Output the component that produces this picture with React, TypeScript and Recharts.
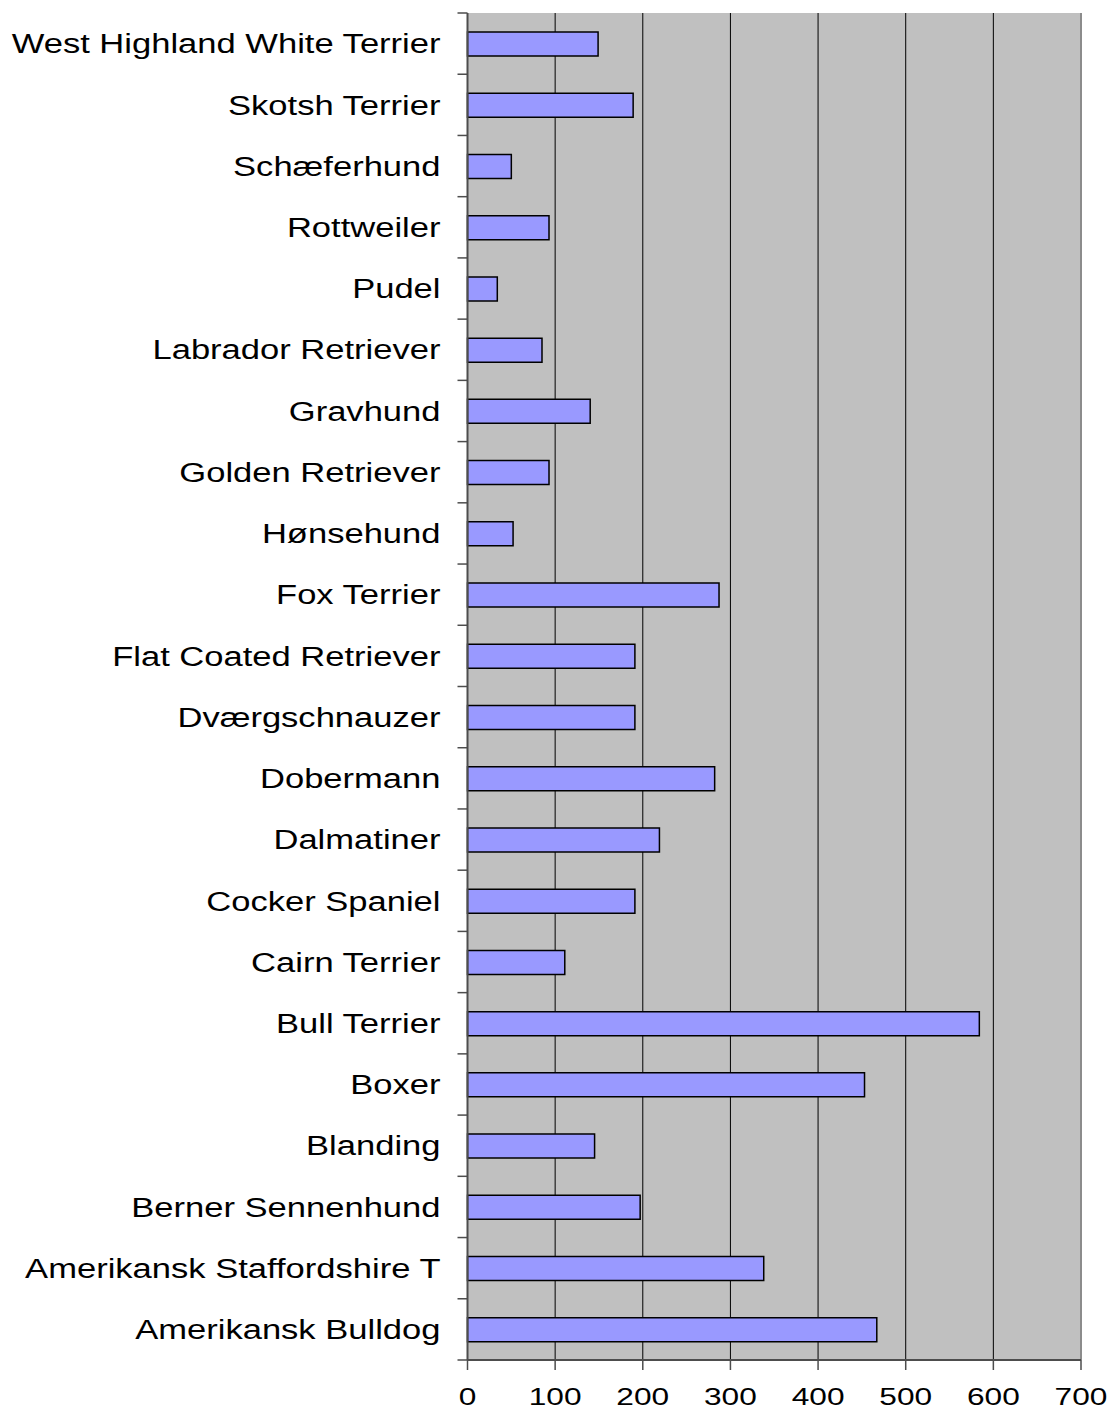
import { BarChart, Bar, XAxis, YAxis, CartesianGrid, ReferenceLine } from "recharts";

// top to bottom, as shown in the chart
const breeds = [
  "West Highland White Terrier",
  "Skotsh Terrier",
  "Schæferhund",
  "Rottweiler",
  "Pudel",
  "Labrador Retriever",
  "Gravhund",
  "Golden Retriever",
  "Hønsehund",
  "Fox Terrier",
  "Flat Coated Retriever",
  "Dværgschnauzer",
  "Dobermann",
  "Dalmatiner",
  "Cocker Spaniel",
  "Cairn Terrier",
  "Bull Terrier",
  "Boxer",
  "Blanding",
  "Berner Sennenhund",
  "Amerikansk Staffordshire T",
  "Amerikansk Bulldog",
];

const counts = [149, 189, 50, 93, 34, 85, 140, 93, 52, 287, 191, 191, 282, 219, 191, 111, 584, 453, 145, 197, 338, 467];

const xTicks = [0, 100, 200, 300, 400, 500, 600, 700];

const data = breeds.map((name, i) => ({ name, count: counts[i] }));

const font = '"Liberation Sans", Arial, sans-serif';
const axisColor = "#4d4d4d";

function BreedTick(props: any) {
  const { x, y, payload, index } = props;
  const half = payload?.offset || 30.6;
  const axisX = x + 27;
  return (
    <g>
      <line x1={axisX - 10} x2={axisX} y1={y - half} y2={y - half} stroke={axisColor} strokeWidth={1.5} />
      {index === breeds.length - 1 && (
        <line x1={axisX - 10} x2={axisX} y1={y + half} y2={y + half} stroke={axisColor} strokeWidth={1.5} />
      )}
      <text
        transform={`translate(${x},${y}) scale(1.28,1)`}
        textAnchor="end"
        dy="0.36em"
        fontSize={27}
        fontFamily={font}
        fill="#000"
      >
        {payload.value}
      </text>
    </g>
  );
}

function ValueTick(props: any) {
  const { x, y, payload } = props;
  return (
    <text
      transform={`translate(${x},${y}) scale(1.32,1)`}
      textAnchor="middle"
      dy="0.72em"
      fontSize={24}
      fontFamily={font}
      fill="#000"
    >
      {payload.value}
    </text>
  );
}

export default function App() {
  return (
    <div style={{ position: "absolute", left: 0, top: 0, background: "#fff" }}>
      <BarChart
        width={1112}
        height={1410}
        data={data}
        layout="vertical"
        margin={{ top: 13, right: 31, left: 0, bottom: 0 }}
      >
        <CartesianGrid horizontal={false} stroke="#000" fill="#C0C0C0" fillOpacity={1} />
        <XAxis
          type="number"
          domain={[0, 700]}
          ticks={xTicks}
          interval={0}
          height={50}
          tickSize={10}
          tickMargin={18}
          tick={<ValueTick />}
          axisLine={{ stroke: axisColor, strokeWidth: 2 }}
          tickLine={{ stroke: axisColor, strokeWidth: 1.5 }}
        />
        <YAxis
          type="category"
          dataKey="name"
          width={467.5}
          interval={0}
          tickSize={10}
          tickMargin={17}
          tickLine={false}
          tick={<BreedTick />}
          axisLine={{ stroke: axisColor, strokeWidth: 2 }}
        />
        <ReferenceLine x={700} stroke="#8c8c8c" strokeWidth={2} />
        <Bar dataKey="count" fill="#9999FF" stroke="#000" strokeWidth={1.5} barSize={24} isAnimationActive={false} />
      </BarChart>
    </div>
  );
}
